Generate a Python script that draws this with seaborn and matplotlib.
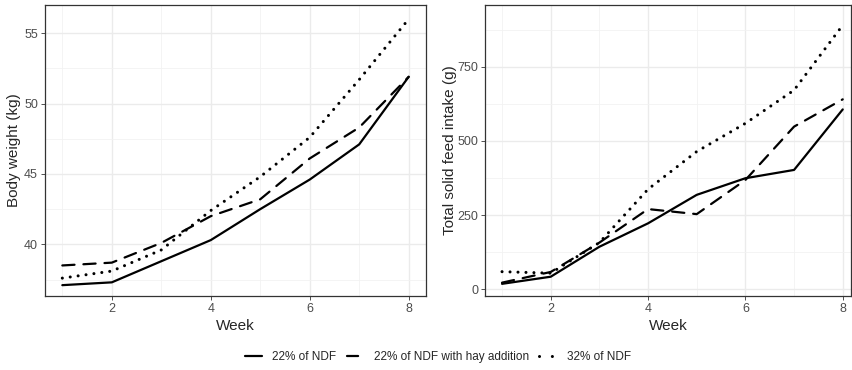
import matplotlib
matplotlib.use("Agg")
import matplotlib.pyplot as plt
import seaborn as sns
import pandas as pd
from matplotlib.lines import Line2D
from matplotlib.ticker import MultipleLocator

weeks = [1, 2, 3, 4, 5, 6, 7, 8]
treatments = ["22% of NDF", "22% of NDF with hay addition", "32% of NDF"]

bw_22 = [37.1, 37.3, 38.8, 40.3, 42.5, 44.6, 47.1, 51.9]
bw_22hay = [38.5, 38.7, 40.1, 42.0, 43.2, 46.1, 48.3, 51.9]
bw_32 = [37.6, 38.1, 39.6, 42.4, 44.8, 47.6, 51.7, 56.0]

fi_22 = [18, 42, 143, 222, 318, 374, 402, 606]
fi_22hay = [22, 58, 157, 270, 253, 368, 548, 640]
fi_32 = [59, 54, 157, 337, 464, 559, 671, 890]

rows = []
for t, bw, fi in zip(treatments, [bw_22, bw_22hay, bw_32], [fi_22, fi_22hay, fi_32]):
    for w, b, f in zip(weeks, bw, fi):
        rows.append({"Week": w, "Treatment": t, "BW": b, "FI": f})
df = pd.DataFrame(rows)

sns.set_theme(style="white")
plt.rcParams['font.family'] = ['Liberation Sans', 'DejaVu Sans']

W, H = 852, 370
fig = plt.figure(figsize=(W / 100, H / 100), dpi=100)
ax1 = fig.add_axes([45 / W, 1 - 296 / H, (426 - 45) / W, (296 - 5) / H])
ax2 = fig.add_axes([485 / W, 1 - 296 / H, (851.5 - 485) / W, (296 - 5) / H])

lw = 1.6
dot_lw = 2.2
dash_map = {
    "22% of NDF": "",
    "22% of NDF with hay addition": (5.5, 4.0),
    "32% of NDF": (0.01, 2.6),
}

for ax, col in [(ax1, "BW"), (ax2, "FI")]:
    sns.lineplot(data=df, x="Week", y=col, style="Treatment", style_order=treatments,
                 dashes=dash_map, color="black", linewidth=lw, ax=ax, legend=False)
    lines = ax.get_lines()
    for ln in lines:
        ln.set_dash_capstyle("round")
    lines[2].set_linewidth(dot_lw)
    lines[2].set_dashes((0.01, 2.6))
    ax.set_facecolor("white")
    ax.xaxis.set_major_locator(MultipleLocator(2))
    ax.xaxis.set_minor_locator(MultipleLocator(1))
    ax.grid(True, which="major", color="#EBEBEB", linewidth=1.0)
    ax.grid(True, which="minor", color="#F2F2F2", linewidth=0.6)
    ax.set_axisbelow(True)
    for s in ax.spines.values():
        s.set_color("#333333")
        s.set_linewidth(0.9)
    ax.tick_params(axis="both", which="major", length=3, width=0.6, color="#333333",
                   labelsize=9, labelcolor="#4D4D4D", pad=2, bottom=True, left=True)
    ax.tick_params(axis="both", which="minor", length=0)
    ax.set_xlabel("Week", fontsize=11, labelpad=3)

ax1.set_xlim(0.65, 8.35)
ax1.set_ylim(36.33, 57.0)
ax1.yaxis.set_major_locator(MultipleLocator(5))
ax1.yaxis.set_minor_locator(MultipleLocator(2.5))
ax1.set_ylabel("Body weight (kg)", fontsize=11, labelpad=2)

ax2.set_xlim(0.65, 8.18)
ax2.set_ylim(-23, 958)
ax2.yaxis.set_major_locator(MultipleLocator(250))
ax2.yaxis.set_minor_locator(MultipleLocator(125))
ax2.set_ylabel("Total solid feed intake (g)", fontsize=11, labelpad=0)

handles = [
    Line2D([0], [0], color="black", linewidth=lw),
    Line2D([0], [0], color="black", linewidth=lw, dashes=(5, 10), dash_capstyle="round"),
    Line2D([0], [0], color="black", linewidth=dot_lw, dashes=(0.01, 4.2), dash_capstyle="round"),
]
fig.legend(handles, treatments, loc="center", bbox_to_anchor=(438 / W, 1 - 357 / H), ncol=3,
           frameon=False, fontsize=8.5, handlelength=1.5, columnspacing=0.85, handletextpad=0.85)

fig.savefig("out.png", dpi=100)
